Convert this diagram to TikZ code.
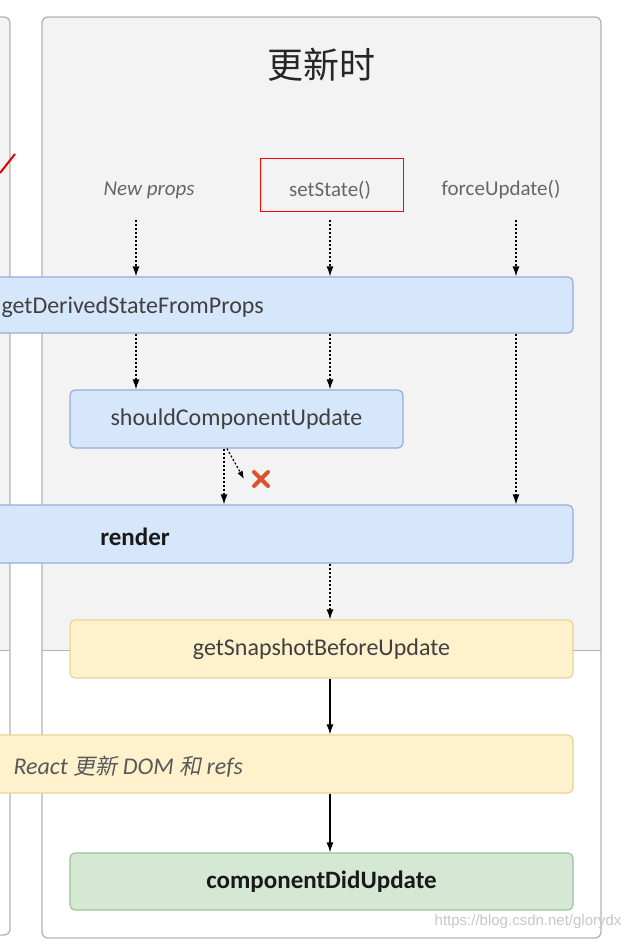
\documentclass[tikz,border=0pt]{standalone}
\usepackage{fontspec}
\setmainfont{Carlito}
\newfontfamily\cjk{Noto Sans CJK SC}
\newfontfamily\cjkit[FakeSlant=0.2]{Noto Sans CJK SC}
\newfontfamily\wmfont{Liberation Sans}
\usetikzlibrary{arrows.meta}
\definecolor{panelgray}{HTML}{F3F3F3}
\definecolor{panelline}{HTML}{B4B4B4}
\definecolor{bluefill}{HTML}{D6E6FB}
\definecolor{blueline}{HTML}{93AEDA}
\definecolor{yellowfill}{HTML}{FEF1CC}
\definecolor{yellowline}{HTML}{E8D398}
\definecolor{greenfill}{HTML}{D5E8D4}
\definecolor{greenline}{HTML}{9DC39A}
\definecolor{crossred}{HTML}{D9532C}
\definecolor{textgray}{HTML}{404040}
\begin{document}
\begin{tikzpicture}[x=1pt,y=-1pt,
    box/.style={draw,line width=1.2pt,rounded corners=5pt,inner sep=0pt},
    bluebox/.style={box,fill=bluefill,draw=blueline},
    yellowbox/.style={box,fill=yellowfill,draw=yellowline},
    greenbox/.style={box,fill=greenfill,draw=greenline},
    boxtext/.style={text=textgray,font=\fontsize{24}{28}\selectfont},
    boldtext/.style={text=black!90,font=\bfseries\fontsize{25}{29}\selectfont},
    eventtext/.style={text=black!60,font=\fontsize{21}{25}\selectfont},
    dotarrow/.style={line width=1.2pt,dash pattern=on 2pt off 2pt,-{Latex[length=10pt,width=7pt]}},
    solidarrow/.style={line width=1.2pt,-{Latex[length=10pt,width=7pt]}}]
        \useasboundingbox (0,0) rectangle (623,941);
        \clip (0,0) rectangle (623,941);
        \def\split{650}
        % panels
        \begin{scope}
            \clip[rounded corners=6pt] (-40,17) rectangle (10,935);
            \fill[panelgray] (-40,17) rectangle (10,\split);
        \end{scope}
        \draw[panelline,line width=1.3pt,rounded corners=6pt] (-40,17) -- (10,17) -- (10,935) -- (-40,935);
        \draw[panelline,line width=1pt] (0,\split) -- (10,\split);
        \begin{scope}
            \clip[rounded corners=6pt] (42,17) rectangle (601,938);
            \fill[panelgray] (42,17) rectangle (601,\split);
        \end{scope}
        \draw[panelline,line width=1.3pt,rounded corners=6pt] (42,17) rectangle (601,938);
        \draw[panelline,line width=1pt] (42,\split) -- (601,\split);
        \draw[red!90!black,line width=2pt] (0,173) -- (15,154);

        \node[text=black!85,font=\cjk\fontsize{36}{40}\selectfont] (title) at (321,65) {更新时};

        % triggers
        \node[eventtext,font=\itshape\fontsize{21}{25}\selectfont] (newprops) at (149,190) {New props};
        \node[eventtext] (setstate) at (330,190) {setState()};
        \node[eventtext] (forceupdate) at (501,190) {forceUpdate()};
        \node[draw=red,line width=0.8pt,minimum width=143pt,minimum height=53pt,inner sep=0pt] (mark) at (331.5,184.5) {};
        \coordinate (np) at (136,220);
        \coordinate (ss) at (330,220);
        \coordinate (fu) at (516,220);

        % lifecycle boxes
        \node[bluebox,minimum width=603pt,minimum height=56pt] (gdsfp) at (271.5,305) {};
        \node[boxtext,anchor=west] (gdsfptext) at (-2,307) {getDerivedStateFromProps};
        \node[bluebox,boxtext,minimum width=333pt,minimum height=58pt] (scu) at (236.5,419) {shouldComponentUpdate};
        \node[bluebox,minimum width=603pt,minimum height=58pt] (render) at (271.5,534) {};
        \node[boldtext] (rendertext) at (135,537) {render};
        \node[yellowbox,boxtext,minimum width=503pt,minimum height=58pt] (gsbu) at (321.5,649) {getSnapshotBeforeUpdate};
        \node[yellowbox,minimum width=603pt,minimum height=58pt] (dom) at (271.5,764) {};
        \node[boxtext,text=black!65,anchor=west] (domtext) at (10,767) {\itshape React {\cjkit\fontsize{22}{28}\selectfont 更新} DOM {\cjkit\fontsize{22}{28}\selectfont 和} refs};
        \node[greenbox,boldtext,minimum width=503pt,minimum height=57pt] (cdu) at (321.5,881.5) {componentDidUpdate};

        % connectors
        \draw[dotarrow] (np) -- (gdsfp.north -| np);
        \draw[dotarrow] (ss) -- (gdsfp.north -| ss);
        \draw[dotarrow] (fu) -- (gdsfp.north -| fu);
        \draw[dotarrow] (gdsfp.south -| np) -- (scu.north -| np);
        \draw[dotarrow] (gdsfp.south -| ss) -- (scu.north -| ss);
        \draw[dotarrow] (gdsfp.south -| fu) -- (render.north -| fu);
        \coordinate (sx) at (224,0);
        \draw[dotarrow] (scu.south -| sx) -- (render.north -| sx);
        \coordinate (skip) at (244,479);
        \draw[dotarrow,-{Latex[length=8pt,width=6pt]}] ([xshift=3pt]scu.south -| sx) -- (skip);
        \coordinate (cross) at (261,479);
        \draw[crossred,line width=4pt,line cap=round] ([shift={(-7,-7)}]cross) -- ([shift={(7,7)}]cross)
            ([shift={(-7,7)}]cross) -- ([shift={(7,-7)}]cross);
        \draw[dotarrow] (render.south -| ss) -- (gsbu.north -| ss);
        \draw[solidarrow] (gsbu.south -| ss) -- (dom.north -| ss);
        \draw[solidarrow] (dom.south -| ss) -- (cdu.north -| ss);

        \node[text=black!22,font=\wmfont\fontsize{15}{18}\selectfont,anchor=east] (watermark) at (625,922) {https://blog.csdn.net/glorydx};
\end{tikzpicture}
\end{document}
